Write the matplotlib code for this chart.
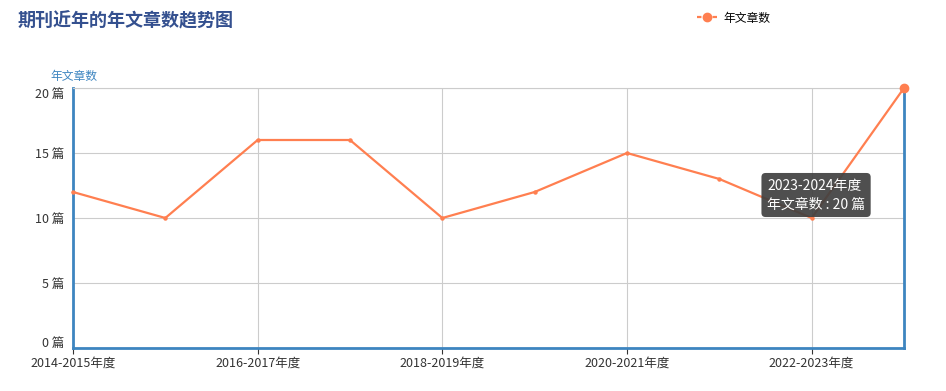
import matplotlib
matplotlib.use("Agg")
import matplotlib.pyplot as plt
import matplotlib.transforms as mtransforms
from matplotlib.lines import Line2D

plt.rcParams['font.family'] = ['Noto Sans CJK SC', 'DejaVu Sans']

categories = ["2014-2015年度", "2015-2016年度", "2016-2017年度", "2017-2018年度",
              "2018-2019年度", "2019-2020年度", "2020-2021年度", "2021-2022年度",
              "2022-2023年度", "2023-2024年度"]
values = [12, 10, 16, 16, 10, 12, 15, 13, 10, 20]
yticks = [0, 5, 10, 15, 20]
ytick_labels = [f"{v} 篇" for v in yticks]

orange = "#ff7f50"
blue = "#3d85c0"

fig = plt.figure(figsize=(9.46, 3.91), dpi=100)
ax = fig.add_axes([73/946, 1-348/391, (904-73)/946, (348-88)/391])

x = list(range(len(categories)))
ax.plot(x, values, color=orange, lw=1.6, marker='o', ms=2.2, zorder=3, clip_on=False)
ax.plot([x[-1]], [values[-1]], 'o', color=orange, ms=6, zorder=4, clip_on=False)

ax.set_xlim(0, len(categories) - 1)
ax.set_ylim(0, 20)
ax.set_yticks(yticks)
ax.set_yticklabels(ytick_labels, fontsize=9, color="#333333")
ax.set_xticks(x[::2])
ax.set_xticklabels(categories[::2], fontsize=9, color="#333333")
ax.grid(True, color="#cccccc", lw=0.8)
ax.set_axisbelow(True)
for s in ['top']:
    ax.spines[s].set_color("#cccccc")
    ax.spines[s].set_linewidth(0.8)
for s in ['left', 'right', 'bottom']:
    ax.spines[s].set_color(blue)
    ax.spines[s].set_linewidth(2)
ax.tick_params(axis='y', length=0, pad=6)
ax.tick_params(axis='x', length=4, color="#333333", pad=2)

# nudge the end labels inward like the reference
ylabels = ax.get_yticklabels()
ylabels[0].set_transform(ylabels[0].get_transform() +
                         mtransforms.ScaledTranslation(0, 6/100, fig.dpi_scale_trans))
ylabels[-1].set_transform(ylabels[-1].get_transform() +
                          mtransforms.ScaledTranslation(0, -5/100, fig.dpi_scale_trans))

fig.text(18/946, 1-21/391, "期刊近年的年文章数趋势图", fontsize=13, fontweight='bold',
         color="#34508f", va='center', ha='left')
fig.text(74/946, 1-76/391, "年文章数", fontsize=8.5, color=blue, va='center', ha='center')

leg_handle = Line2D([0], [0], color=orange, lw=1.6, ls=(0, (2, 1.5)), marker='o', ms=6)
fig.legend([leg_handle], ["年文章数"], loc='center left', bbox_to_anchor=(686/946, 1-18/391),
           frameon=False, fontsize=8.5, handlelength=1.8, handletextpad=0.5)

ax.annotate("2023-2024年度\n年文章数 : 20 篇", xy=(767/946, 1-195/391), xycoords='figure fraction',
            fontsize=10, color="white", va='center', ha='left', linespacing=1.45,
            bbox=dict(boxstyle="round,pad=0.4,rounding_size=0.3", fc="#404040", ec="none", alpha=0.92),
            zorder=10)

fig.savefig("out.png", dpi=100)
